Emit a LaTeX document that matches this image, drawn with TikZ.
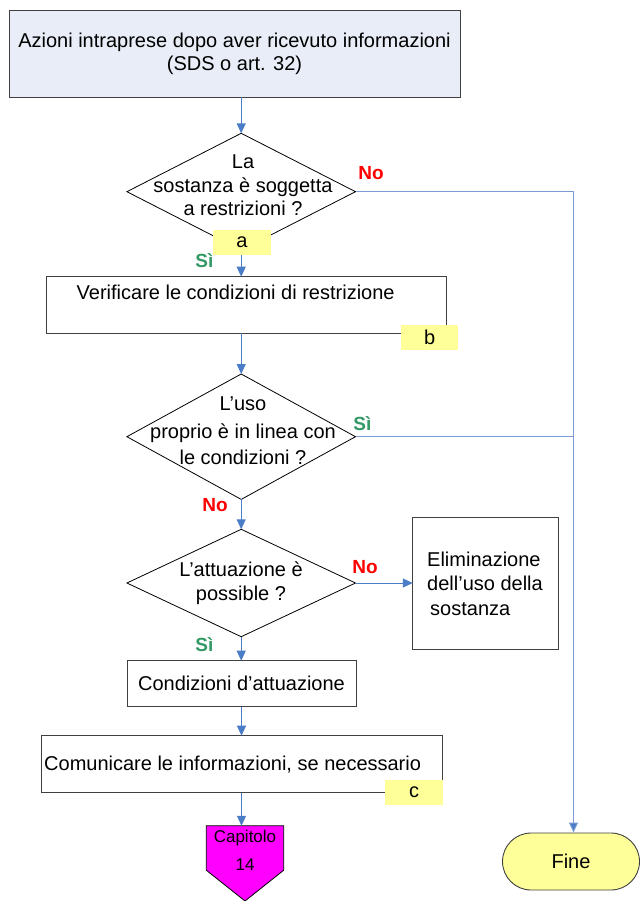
\documentclass[tikz,border=0pt]{standalone}
\usepackage{fontspec}
\setmainfont{Liberation Sans}
\usetikzlibrary{shapes.geometric,shapes.misc,arrows.meta}
\definecolor{topblue}{HTML}{E8EDF7}
\definecolor{lineblue}{HTML}{4A7CC8}
\definecolor{lightline}{HTML}{7C9CD4}
\definecolor{tagyellow}{HTML}{FFFF99}
\definecolor{yesgreen}{HTML}{339966}
\definecolor{nored}{HTML}{FF0000}
\definecolor{boxgray}{HTML}{404040}
\definecolor{capmag}{HTML}{FF00FF}
\tikzset{
  txt/.style={font=\fontsize{20}{24}\selectfont, inner sep=0pt},
  box/.style={draw=boxgray, line width=0.9pt, inner sep=0pt, outer sep=0pt},
  dia/.style={diamond, draw=black, line width=0.8pt, inner sep=0pt, outer sep=0pt},
  arr/.style={draw=lineblue, line width=1pt, -{Triangle[length=10pt,width=9pt]}},
  longarr/.style={draw=lightline, line width=1pt, -{Triangle[length=10pt,width=9pt,fill=lineblue]}},
  longln/.style={draw=lightline, line width=1pt},
  tag/.style={fill=tagyellow, inner sep=0pt, minimum width=58pt, minimum height=25pt, font=\fontsize{20}{24}\selectfont},
  yeslab/.style={text=yesgreen, font=\fontsize{19}{22}\selectfont\bfseries, inner sep=0pt},
  nolab/.style={text=nored, font=\fontsize{19}{22}\selectfont\bfseries, inner sep=0pt},
}
\begin{document}
\begin{tikzpicture}[x=1pt,y=-1pt]
\useasboundingbox (0,0) rectangle (640,901);
% boxes
\node[box, fill=topblue, minimum width=451pt, minimum height=86.6pt] (top) at (234.5,54) {};
\node[txt, align=center] (toptxt) at (234.5,54) {Azioni intraprese dopo aver ricevuto informazioni\\[-1pt](SDS o art. 32)};
\node[dia, minimum width=228.6pt, minimum height=116.8pt] (d1) at (241.2,191.7) {};
\node[txt, align=center] (d1txt) at (243,185.5) {La\\[-0.5pt]sostanza è soggetta\\[-0.5pt]a restrizioni ?};
\node[box, minimum width=400pt, minimum height=56.6pt] (ver) at (246,305) {};
\node[txt, anchor=west] (vertxt) at (76.5,292.5) {Verificare le condizioni di restrizione};
\node[dia, minimum width=228.6pt, minimum height=125.4pt] (d2) at (241.2,436.7) {};
\node[txt, align=center] (d2txt) at (243,431) {L’uso\\[4pt]proprio è in linea con\\[2pt]le condizioni ?};
\node[dia, minimum width=228.6pt, minimum height=107.4pt] (d3) at (241.2,583) {};
\node[txt, align=center] (d3txt) at (241,583.5) {L’attuazione è\\possible ?};
\node[box, minimum width=145.3pt, minimum height=131.3pt] (eli) at (485.4,583.4) {};
\node[txt, align=left, anchor=west] (elitxt) at (427,584) {Eliminazione\\dell’uso della\\[1pt]\hspace*{3pt}sostanza};
\node[box, minimum width=229pt, minimum height=46pt] (cond) at (241.5,683.7) {};
\node[txt] (condtxt) at (241.5,683.5) {Condizioni d’attuazione};
\node[box, minimum width=401pt, minimum height=57pt] (com) at (241.5,764.2) {};
\node[txt, anchor=west] (comtxt) at (44,764.3) {Comunicare le informazioni, se necessario};
% Capitolo
\node[inner sep=0pt, minimum width=77pt, minimum height=44pt] (cap) at (245,848) {};
\filldraw[fill=capmag, draw=black, line width=0.8pt] (cap.north west) -- (cap.north east) -- (cap.south east) -- (245,901) -- (cap.south west) -- cycle;
\node[txt, font=\fontsize{17}{20}\selectfont, align=center] (captxt) at (245,850) {Capitolo\\[8pt]14};
% Fine
\node[rounded rectangle, draw=boxgray, line width=0.9pt, fill=tagyellow, minimum width=137pt, minimum height=57pt, inner sep=0pt, font=\fontsize{20}{24}\selectfont] (fine) at (571,861.5) {Fine};
% connectors
\draw[arr] (d1.north |- top.south) -- (d1.north);
\draw[arr] (d1.south) -- (d1.south |- ver.north);
\draw[arr] (d2.north |- ver.south) -- (d2.north);
\draw[arr] (d2.south) -- (d3.north);
\draw[arr] (d3.south) -- (d3.south |- cond.north);
\draw[arr] (cond.south) -- (com.north);
\draw[arr] (com.south) -- (com.south |- cap.north);
\draw[arr] (d3.east) -- (d3.east -| eli.west);
\coordinate (j1) at (573.5,191.7);
\coordinate (j2) at (573.5,436.7);
\draw[longarr] (d1.east) -- (j1) -- (j1 |- fine.north);
\draw[longln] (d2.east) -- (j2);
% tags
\node[tag] (ta) at (242,242.5) {a};
\node[tag, minimum width=57.5pt] (tb) at (429.7,337.5) {b};
\node[tag] (tc) at (414,792.5) {c};
% labels
\node[yeslab] (s1) at (204.3,261) {Sì};
\node[nolab] (n1) at (371,173) {No};
\node[yeslab] (s2) at (362.4,424) {Sì};
\node[nolab] (n2) at (215,505) {No};
\node[nolab] (n3) at (365,567.3) {No};
\node[yeslab] (s3) at (204.3,645) {Sì};
\end{tikzpicture}
\end{document}
